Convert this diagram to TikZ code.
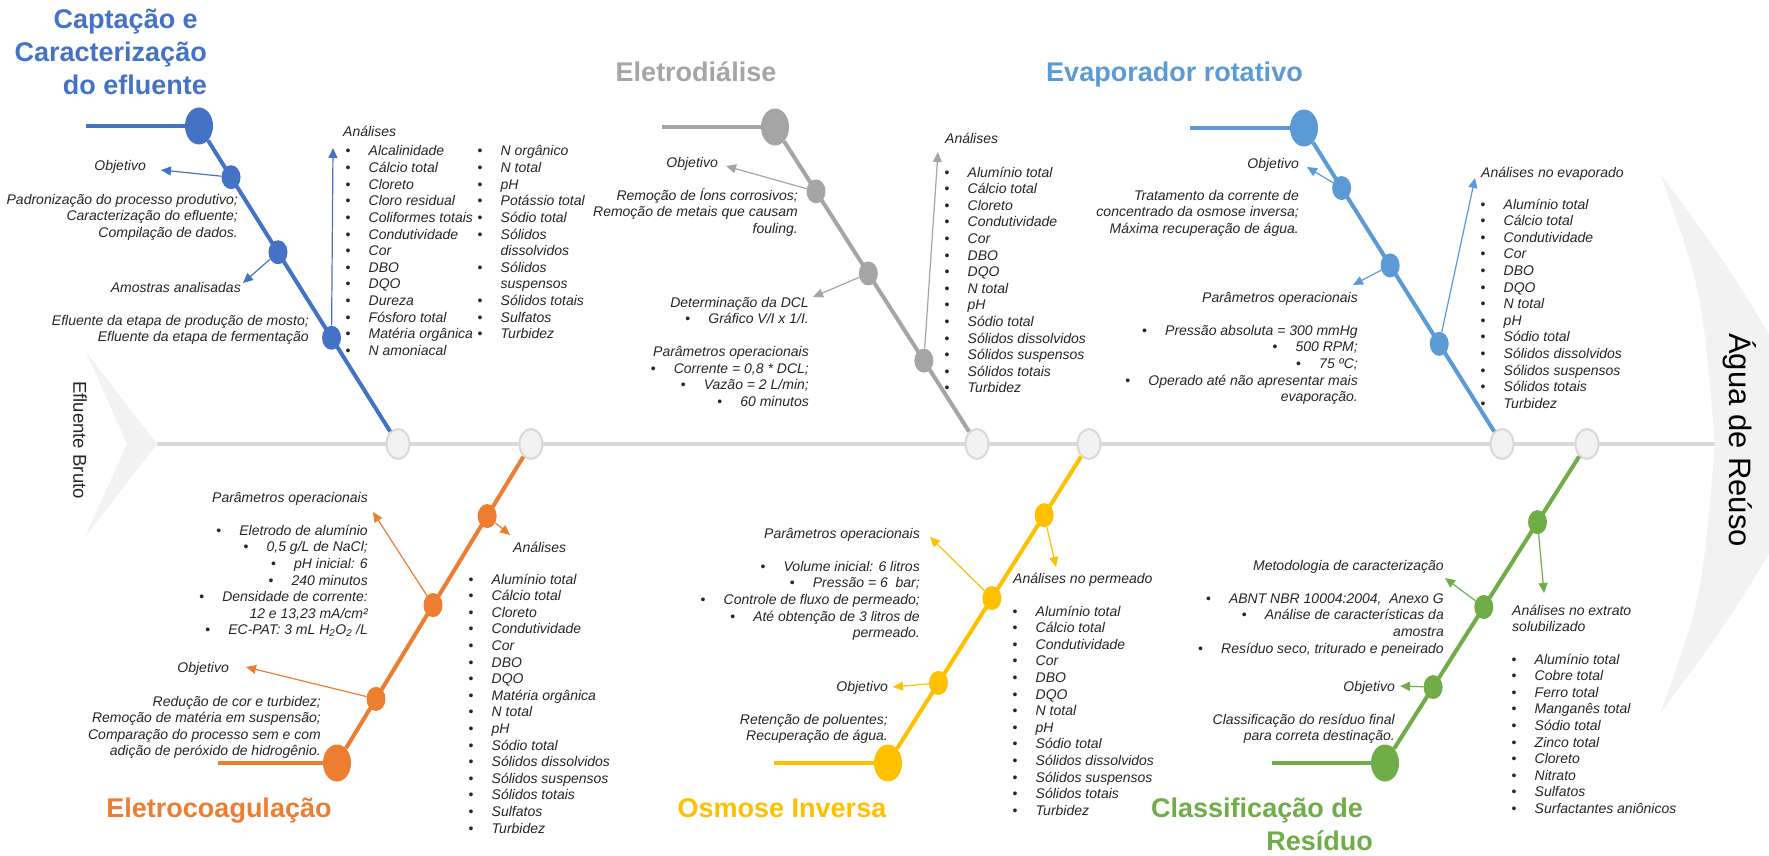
\documentclass[tikz,border=0pt]{standalone}
\usepackage{fontspec}
\setmainfont{Liberation Sans}
\usetikzlibrary{arrows.meta,shapes.geometric,calc}

\definecolor{cBlue}{HTML}{4472C4}
\definecolor{cGray}{HTML}{A5A5A5}
\definecolor{cLBlue}{HTML}{5B9BD5}
\definecolor{cOrange}{HTML}{ED7D31}
\definecolor{cYellow}{HTML}{FFC000}
\definecolor{cGreen}{HTML}{70AD47}
\definecolor{cSpine}{HTML}{D9D9D9}
\definecolor{cShape}{HTML}{F2F2F2}
\definecolor{cText}{HTML}{262626}

% bullet with hanging gap, and the matching indent for wrapped lines
\newcommand\blt{\makebox[23pt][l]{\upshape\textbullet}}
\newcommand\bind{\hspace*{23pt}}

% one node per text line: #1 name, #2 anchor, #3 x, #4 first baseline, #5 lines
\newcommand\textlines[5]{%
  \foreach \itm [count=\i] in {#5}{%
    \node[txt,anchor=#2] (#1-\i) at (#3,{#4+(\i-1)*16.6}) {\itm};
  }}

\tikzset{
  txt/.style={inner sep=0pt,text=cText,font=\fontsize{14}{16.6}\selectfont\itshape},
  ttl/.style={inner sep=0pt,text=#1,font=\fontsize{27}{33}\selectfont\bfseries},
  bigdot/.style={ellipse,minimum width=28pt,minimum height=37pt,inner sep=0pt,fill=#1},
  smalldot/.style={ellipse,minimum width=19pt,minimum height=24pt,inner sep=0pt,fill=#1},
  spinedot/.style={ellipse,minimum width=23pt,minimum height=30pt,inner sep=0pt,
    fill=cShape,draw=cSpine,line width=2pt},
  branch/.style={draw=#1,line width=4pt},
  arr/.style={draw=#1,line width=1.2pt,-{Triangle[length=10pt,width=9pt]}},
  spine/.style={draw=cSpine,line width=4pt},
}

\begin{document}
\begin{tikzpicture}[x=1pt,y=-1pt]
\useasboundingbox (0,0) rectangle (1769,856);
\fill[white] (0,0) rectangle (1769,856);
\clip (0,0) rectangle (1769,856);

% tail and head of the fish
\fill[cShape] (86,352) -- (157,444) -- (85,537) -- (127,444) -- cycle;
\fill[cShape] (1660,173) .. controls (1745,290) .. (1830,444)
  .. controls (1745,598) .. (1660,714)
  .. controls (1702,598) .. (1715,444) .. controls (1702,290) .. (1660,173) -- cycle;
\node[rotate=-90,inner sep=0pt,text=cText,font=\fontsize{18.6}{22}\selectfont] (src) at (80,440) {Efluente Bruto};
\node[rotate=-90,inner sep=0pt,text=black,font=\fontsize{31}{36}\selectfont] (dst) at (1740,440) {Água de Reúso};

% spine
\coordinate (tail) at (157,444);
\coordinate (notch) at (1715,444);
\draw[spine] (tail) -- (notch);
\node[spinedot] (SA) at (398,444) {};
\node[spinedot] (SD) at (531,444) {};
\node[spinedot] (SB) at (977,444) {};
\node[spinedot] (SE) at (1089,444) {};
\node[spinedot] (SC) at (1502,444) {};
\node[spinedot] (SF) at (1587,444) {};

% ---------- Captação e caracterização (blue) ----------
\node[bigdot=cBlue] (A0) at (199,126) {};
\coordinate (Astub) at (86,126);
\draw[branch=cBlue] (Astub) -- (A0);
\draw[branch=cBlue] (A0) -- (SA);
\node[smalldot=cBlue] (A1) at ($(A0)!0.161!(SA)$) {};
\node[smalldot=cBlue] (A2) at ($(A0)!0.397!(SA)$) {};
\node[smalldot=cBlue] (A3) at ($(A0)!0.666!(SA)$) {};
\coordinate (Aobj) at (161,170);
\coordinate (Asam) at (243,283);
\coordinate (Aana) at (333,148);
\draw[arr=cBlue] (A1) -- (Aobj);
\draw[arr=cBlue] (A2) -- (Asam);
\draw[arr=cBlue] (A3) -- (Aana);
\node[ttl=cBlue,anchor=base east] (At1) at (198,29) {Captação e};
\node[ttl=cBlue,anchor=base east] (At2) at (207,62) {Caracterização};
\node[ttl=cBlue,anchor=base east] (At3) at (207,95) {do efluente};
\node[txt,anchor=base east] (Aobjt) at (146,171) {Objetivo};
\textlines{Aot}{base east}{238}{204}{Padronização do processo produtivo;,Caracterização do efluente;,Compilação de dados.}
\node[txt,anchor=base east] (Asamt) at (241,292) {Amostras analisadas};
\textlines{Ast}{base east}{309}{325}{Efluente da etapa de produção de mosto;,Efluente da etapa de fermentação}
\node[txt,anchor=base west] (Aanat) at (343,136) {Análises};
\textlines{Al}{base west}{345.5}{156}{\blt Alcalinidade,\blt Cálcio total,\blt Cloreto,\blt Cloro residual,\blt Coliformes totais,\blt Condutividade,\blt Cor,\blt DBO,\blt DQO,\blt Dureza,\blt Fósforo total,\blt Matéria orgânica,\blt N amoniacal}
\textlines{Am}{base west}{477.5}{156}{\blt N orgânico,\blt N total,\blt pH,\blt Potássio total,\blt Sódio total,\blt Sólidos,\bind dissolvidos,\blt Sólidos,\bind suspensos,\blt Sólidos totais,\blt Sulfatos,\blt Turbidez}

% ---------- Eletrodiálise (gray) ----------
\node[bigdot=cGray] (B0) at (775,127) {};
\coordinate (Bstub) at (662,127);
\draw[branch=cGray] (Bstub) -- (B0);
\draw[branch=cGray] (B0) -- (SB);
\node[smalldot=cGray] (B1) at ($(B0)!0.203!(SB)$) {};
\node[smalldot=cGray] (B2) at ($(B0)!0.462!(SB)$) {};
\node[smalldot=cGray] (B3) at ($(B0)!0.737!(SB)$) {};
\coordinate (Bobj) at (726,166);
\coordinate (Bdcl) at (813,297);
\coordinate (Bana) at (938,152);
\draw[arr=cGray] (B1) -- (Bobj);
\draw[arr=cGray] (B2) -- (Bdcl);
\draw[arr=cGray] (B3) -- (Bana);
\node[ttl=cGray,anchor=base] (Bt) at (696,82) {Eletrodiálise};
\node[txt,anchor=base east] (Bobjt) at (718,167) {Objetivo};
\textlines{Bot}{base east}{798}{200}{Remoção de Íons corrosivos;,Remoção de metais que causam,fouling.}
\textlines{Bdt}{base east}{809}{307}{Determinação da DCL,\blt Gráfico V/I x 1/I.}
\textlines{Bpt}{base east}{809}{356.6}{Parâmetros operacionais,{\blt Corrente = 0,8 * DCL;},\blt Vazão = 2 L/min;,\blt 60 minutos}
\node[txt,anchor=base west] (Banat) at (945,143) {Análises};
\textlines{Bl}{base west}{944.5}{177}{\blt Alumínio total,\blt Cálcio total,\blt Cloreto,\blt Condutividade,\blt Cor,\blt DBO,\blt DQO,\blt N total,\blt pH,\blt Sódio total,\blt Sólidos dissolvidos,\blt Sólidos suspensos,\blt Sólidos totais,\blt Turbidez}

% ---------- Evaporador rotativo (light blue) ----------
\node[bigdot=cLBlue] (C0) at (1304,128) {};
\coordinate (Cstub) at (1190,128);
\draw[branch=cLBlue] (Cstub) -- (C0);
\draw[branch=cLBlue] (C0) -- (SC);
\node[smalldot=cLBlue] (C1) at ($(C0)!0.190!(SC)$) {};
\node[smalldot=cLBlue] (C2) at ($(C0)!0.435!(SC)$) {};
\node[smalldot=cLBlue] (C3) at ($(C0)!0.683!(SC)$) {};
\coordinate (Cobj) at (1307,167);
\coordinate (Cpar) at (1353,285);
\coordinate (Cana) at (1475,178);
\draw[arr=cLBlue] (C1) -- (Cobj);
\draw[arr=cLBlue] (C2) -- (Cpar);
\draw[arr=cLBlue] (C3) -- (Cana);
\node[ttl=cLBlue,anchor=base] (Ct) at (1174.5,82) {Evaporador rotativo};
\node[txt,anchor=base east] (Cobjt) at (1299,168) {Objetivo};
\textlines{Cot}{base east}{1299}{200}{Tratamento da corrente de,concentrado da osmose inversa;,Máxima recuperação de água.}
\node[txt,anchor=base east] (Cpart) at (1358,302) {Parâmetros operacionais};
\textlines{Cpt}{base east}{1358}{335.2}{\blt Pressão absoluta = 300 mmHg,\blt 500 RPM;,\blt 75 ºC;,\blt Operado até não apresentar mais,evaporação.}
\node[txt,anchor=base west] (Canat) at (1481,177) {Análises no evaporado};
\textlines{Cl}{base west}{1480.5}{209}{\blt Alumínio total,\blt Cálcio total,\blt Condutividade,\blt Cor,\blt DBO,\blt DQO,\blt N total,\blt pH,\blt Sódio total,\blt Sólidos dissolvidos,\blt Sólidos suspensos,\blt Sólidos totais,\blt Turbidez}

% ---------- Eletrocoagulação (orange) ----------
\node[bigdot=cOrange] (D0) at (337,763) {};
\coordinate (Dstub) at (218,763);
\draw[branch=cOrange] (Dstub) -- (D0);
\draw[branch=cOrange] (D0) -- (SD);
\node[smalldot=cOrange] (D1) at ($(D0)!0.201!(SD)$) {};
\node[smalldot=cOrange] (D2) at ($(D0)!0.495!(SD)$) {};
\node[smalldot=cOrange] (D3) at ($(D0)!0.774!(SD)$) {};
\coordinate (Dobj) at (246,667);
\coordinate (Dpar) at (373,512);
\coordinate (Dana) at (510,535);
\draw[arr=cOrange] (D1) -- (Dobj);
\draw[arr=cOrange] (D2) -- (Dpar);
\draw[arr=cOrange] (D3) -- (Dana);
\node[ttl=cOrange,anchor=base] (Dt) at (219,817) {Eletrocoagulação};
\node[txt,anchor=base east] (Dpart) at (368,502) {Parâmetros operacionais};
\textlines{Dpt}{base east}{368}{535.2}{\blt Eletrodo de alumínio,{\blt 0,5 g/L de NaCl;},\blt pH inicial: 6,\blt 240 minutos,\blt Densidade de corrente:,{12 e 13,23 mA/cm²},\blt EC-PAT: 3 mL H\textsubscript{2}O\textsubscript{2} /L}
\node[txt,anchor=base east] (Dobjt) at (229,672) {Objetivo};
\textlines{Dot}{base east}{321}{706}{Redução de cor e turbidez;,Remoção de matéria em suspensão;,Comparação do processo sem e com,adição de peróxido de hidrogênio.}
\node[txt,anchor=base west] (Danat) at (513,552) {Análises};
\textlines{Dl}{base west}{468.5}{584}{\blt Alumínio total,\blt Cálcio total,\blt Cloreto,\blt Condutividade,\blt Cor,\blt DBO,\blt DQO,\blt Matéria orgânica,\blt N total,\blt pH,\blt Sódio total,\blt Sólidos dissolvidos,\blt Sólidos suspensos,\blt Sólidos totais,\blt Sulfatos,\blt Turbidez}

% ---------- Osmose inversa (yellow) ----------
\node[bigdot=cYellow] (E0) at (888,763) {};
\coordinate (Estub) at (774,763);
\draw[branch=cYellow] (Estub) -- (E0);
\draw[branch=cYellow] (E0) -- (SE);
\node[smalldot=cYellow] (E1) at ($(E0)!0.251!(SE)$) {};
\node[smalldot=cYellow] (E2) at ($(E0)!0.517!(SE)$) {};
\node[smalldot=cYellow] (E3) at ($(E0)!0.777!(SE)$) {};
\coordinate (Eobj) at (893,687);
\coordinate (Epar) at (930,537);
\coordinate (Eana) at (1056,567);
\draw[arr=cYellow] (E1) -- (Eobj);
\draw[arr=cYellow] (E2) -- (Epar);
\draw[arr=cYellow] (E3) -- (Eana);
\node[ttl=cYellow,anchor=base] (Et) at (782,817) {Osmose Inversa};
\node[txt,anchor=base east] (Epart) at (920,538) {Parâmetros operacionais};
\textlines{Ept}{base east}{920}{571.2}{\blt Volume inicial: 6 litros,\blt Pressão = 6\ \ bar;,\blt Controle de fluxo de permeado;,\blt Até obtenção de 3 litros de,permeado.}
\node[txt,anchor=base east] (Eobjt) at (888,691) {Objetivo};
\textlines{Eot}{base east}{888}{724}{Retenção de poluentes;,Recuperação de água.}
\node[txt,anchor=base west] (Eanat) at (1013,583) {Análises no permeado};
\textlines{El}{base west}{1012.5}{616}{\blt Alumínio total,\blt Cálcio total,\blt Condutividade,\blt Cor,\blt DBO,\blt DQO,\blt N total,\blt pH,\blt Sódio total,\blt Sólidos dissolvidos,\blt Sólidos suspensos,\blt Sólidos totais,\blt Turbidez}

% ---------- Classificação de resíduo (green) ----------
\node[bigdot=cGreen] (F0) at (1385,763) {};
\coordinate (Fstub) at (1272,763);
\draw[branch=cGreen] (Fstub) -- (F0);
\draw[branch=cGreen] (F0) -- (SF);
\node[smalldot=cGreen] (F1) at ($(F0)!0.238!(SF)$) {};
\node[smalldot=cGreen] (F2) at ($(F0)!0.489!(SF)$) {};
\node[smalldot=cGreen] (F3) at ($(F0)!0.755!(SF)$) {};
\coordinate (Fobj) at (1400,686);
\coordinate (Fmet) at (1445,578);
\coordinate (Fana) at (1544,593);
\draw[arr=cGreen] (F1) -- (Fobj);
\draw[arr=cGreen] (F2) -- (Fmet);
\draw[arr=cGreen] (F3) -- (Fana);
\node[ttl=cGreen,anchor=base east] (Ft1) at (1363,817) {Classificação de};
\node[ttl=cGreen,anchor=base east] (Ft2) at (1373,850) {Resíduo};
\node[txt,anchor=base east] (Fmett) at (1444,570) {Metodologia de caracterização};
\textlines{Fmt}{base east}{1444}{603.2}{{\blt ABNT NBR 10004:2004,\ \ Anexo G},\blt Análise de características da,amostra,{\blt Resíduo seco, triturado e peneirado}}
\node[txt,anchor=base east] (Fobjt) at (1395,691) {Objetivo};
\textlines{Fot}{base east}{1395}{724}{Classificação do resíduo final,para correta destinação.}
\textlines{Fat}{base west}{1512}{615}{Análises no extrato,solubilizado}
\textlines{Fl}{base west}{1511.5}{664}{\blt Alumínio total,\blt Cobre total,\blt Ferro total,\blt Manganês total,\blt Sódio total,\blt Zinco total,\blt Cloreto,\blt Nitrato,\blt Sulfatos,\blt Surfactantes aniônicos}
\end{tikzpicture}
\end{document}
